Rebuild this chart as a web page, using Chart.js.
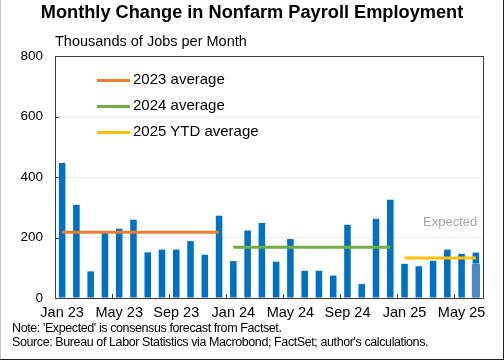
<!DOCTYPE html>
<html>
<head>
<meta charset="utf-8">
<script src="https://cdn.jsdelivr.net/npm/chart.js@4.4.1/dist/chart.umd.min.js"></script>
<style>
  html, body { margin: 0; padding: 0; background: #fff; }
  #wrap { position: relative; width: 504px; height: 360px; overflow: hidden; font-family: "Liberation Sans", Arial, sans-serif; }
  #c { position: absolute; left: 0; top: 0; }
  .t { position: absolute; white-space: nowrap; color: #000; }
  #title { left: 0; width: 504px; text-align: center; top: 2px; font-size: 18.2px; font-weight: bold; }
  #sub { left: 55px; top: 33px; font-size: 14.5px; }
  .leg { position: absolute; left: 97px; font-size: 15px; height: 18px; line-height: 18px; }
  .leg span.ln { display: inline-block; width: 33px; height: 3px; vertical-align: middle; margin-right: 3px; position: relative; top: 0px; }
  #exp { left: 423px; top: 214px; font-size: 13px; color: #a6a6a6; }
  #note1 { left: 12px; top: 321px; font-size: 12.5px; letter-spacing: -0.4px; }
  #note2 { left: 12px; top: 335px; font-size: 12.5px; letter-spacing: -0.4px; }
  #fl { position: absolute; left: 0; top: 0; width: 1px; height: 360px; background: #c8c8c8; }
  #fr { position: absolute; right: 0; top: 0; width: 1px; height: 360px; background: #222; }
  #fb { position: absolute; left: 0; bottom: 0; width: 504px; height: 1px; background: #222; }
</style>
</head>
<body>
<div id="wrap">
  <canvas id="c" width="504" height="360"></canvas>
  <div class="t" id="title">Monthly Change in Nonfarm Payroll Employment</div>
  <div class="t" id="sub">Thousands of Jobs per Month</div>
  <div class="leg" style="top:70px"><span class="ln" style="background:#ed7d31"></span>2023 average</div>
  <div class="leg" style="top:96px"><span class="ln" style="background:#70ad47"></span>2024 average</div>
  <div class="leg" style="top:122px"><span class="ln" style="background:#ffc000"></span>2025 YTD average</div>
  <div class="t" id="exp">Expected</div>
  <div class="t" id="note1">Note: 'Expected' is consensus forecast from Factset.</div>
  <div class="t" id="note2">Source: Bureau of Labor Statistics via Macrobond; FactSet; author's calculations.</div>
  <div id="fl"></div><div id="fr"></div><div id="fb"></div>
</div>
<script>
const months = ["Jan 23","Feb 23","Mar 23","Apr 23","May 23","Jun 23","Jul 23","Aug 23","Sep 23","Oct 23","Nov 23","Dec 23",
                "Jan 24","Feb 24","Mar 24","Apr 24","May 24","Jun 24","Jul 24","Aug 24","Sep 24","Oct 24","Nov 24","Dec 24",
                "Jan 25","Feb 25","Mar 25","Apr 25","May 25","Jun 25"];
const payrolls = [446,308,88,215,229,259,151,160,160,188,143,272,
                  122,223,248,120,195,90,90,74,242,46,262,325,
                  113,105,123,160,146,150];
const expected = [null,null,null,null,null,null,null,null,null,null,null,null,
                  null,null,null,null,null,null,null,null,null,null,null,null,
                  null,null,null,null,null,115];
const avg2023 = [217,217,217,217,217,217,217,217,217,217,217,217,
                 null,null,null,null,null,null,null,null,null,null,null,null,
                 null,null,null,null,null,null];
const avg2024 = [null,null,null,null,null,null,null,null,null,null,null,null,
                 168,168,168,168,168,168,168,168,168,168,168,168,
                 null,null,null,null,null,null];
const avg2025 = [null,null,null,null,null,null,null,null,null,null,null,null,
                 null,null,null,null,null,null,null,null,null,null,null,null,
                 132,132,132,132,132,132];
const yTicks = [0,200,400,600,800];
const labelEvery = 4;

const FONT = "'Liberation Sans', Arial, sans-serif";

const framePlugin = {
  id: 'frame',
  afterDatasetsDraw(chart) {
    const {ctx, chartArea: a, scales} = chart;
    ctx.save();
    ctx.strokeStyle = '#3a3a3a';
    ctx.lineWidth = 1;
    ctx.strokeRect(Math.round(a.left) + 0.5, Math.round(a.top) + 0.5, Math.round(a.right - a.left), Math.round(a.bottom - a.top));
    ctx.beginPath();
    yTicks.forEach(v => {
      const y = Math.round(scales.y.getPixelForValue(v)) + 0.5;
      ctx.moveTo(a.left, y); ctx.lineTo(a.left + 4, y);
    });
    const x = scales.x;
    const half = (x.getPixelForValue(1) - x.getPixelForValue(0)) / 2;
    for (let i = labelEvery; i < months.length; i += labelEvery) {
      const px = Math.round(x.getPixelForValue(i) - half) + 0.5;
      ctx.moveTo(px, a.bottom); ctx.lineTo(px, a.bottom - 4);
    }
    ctx.stroke();
    ctx.restore();
  }
};

new Chart(document.getElementById('c'), {
  type: 'bar',
  data: {
    labels: months,
    datasets: [
      { type: 'line', label: '2023 average', data: avg2023, borderColor: '#ed7d31', borderWidth: 3, pointRadius: 0, spanGaps: false, order: 0 },
      { type: 'line', label: '2024 average', data: avg2024, borderColor: '#70ad47', borderWidth: 3, pointRadius: 0, spanGaps: false, order: 0 },
      { type: 'line', label: '2025 YTD average', data: avg2025, borderColor: '#ffc000', borderWidth: 3, pointRadius: 0, spanGaps: false, order: 0 },
      { label: 'Expected', data: expected, backgroundColor: '#4d86c0', borderColor: '#b5cde6', borderWidth: {top: 1, left: 0, right: 0, bottom: 0},
        grouped: false, barPercentage: 0.6, categoryPercentage: 1, order: 1 },
      { label: 'Payrolls', data: payrolls, backgroundColor: '#0070c0', grouped: false, barPercentage: 0.46, categoryPercentage: 1, order: 2 }
    ]
  },
  options: {
    responsive: false,
    animation: false,
    layout: { padding: { top: 56, right: 21, bottom: 40, left: 0 } },
    plugins: { legend: { display: false }, tooltip: { enabled: false }, title: { display: false } },
    scales: {
      x: {
        offset: true,
        grid: { display: false, drawTicks: false },
        border: { display: false },
        ticks: {
          autoSkip: false, maxRotation: 0, padding: 6, color: '#000',
          font: { family: FONT, size: 14.5 },
          callback: function(v, i) { return i % labelEvery === 0 ? months[i] : ''; }
        },
        afterFit(s) { s.height = 22; }
      },
      y: {
        min: 0, max: 800,
        afterBuildTicks(s) { s.ticks = yTicks.map(v => ({ value: v })); },
        grid: { color: (c) => (c.tick && (c.tick.value === 0 || c.tick.value === 800)) ? 'rgba(0,0,0,0)' : '#ececec', drawTicks: false },
        border: { display: false },
        ticks: { padding: 12, color: '#000', font: { family: FONT, size: 13.5 } },
        afterFit(s) { s.width = 55; }
      }
    }
  },
  plugins: [framePlugin]
});
</script>
</body>
</html>
